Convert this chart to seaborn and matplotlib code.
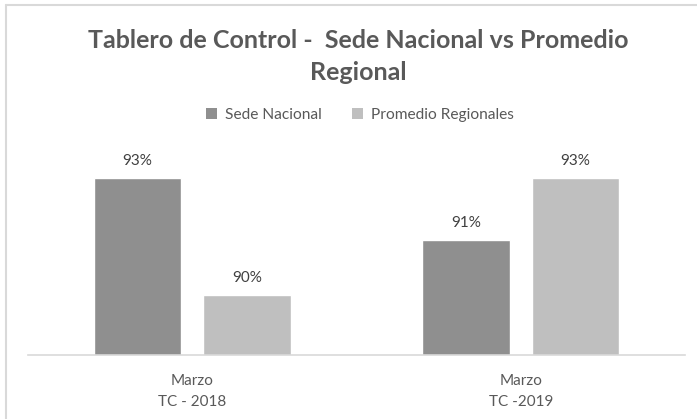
import matplotlib
matplotlib.use("Agg")
import matplotlib.pyplot as plt
import seaborn as sns
import pandas as pd
from matplotlib.lines import Line2D
from matplotlib.patches import Patch

categories = ["Marzo\nTC - 2018", "Marzo\nTC -2019"]
series_names = ["Sede Nacional", "Promedio Regionales"]
sede_nacional = [93.06, 91.29]
promedio_regionales = [89.71, 93.06]

df = pd.DataFrame({
    "cat": categories * 2,
    "serie": [series_names[0]] * 2 + [series_names[1]] * 2,
    "valor": sede_nacional + promedio_regionales,
})

sns.set_style("white")
plt.rcParams["font.family"] = ["Lato", "DejaVu Sans"]

W, H = 697, 419
fig = plt.figure(figsize=(W / 100, H / 100), dpi=100)
ax = fig.add_axes([28 / W, (H - 355) / H, (685 - 28) / W, (355 - 145) / H])

colors = ["#8f8f8f", "#bfbfbf"]
sns.barplot(data=df, x="cat", y="valor", hue="serie", palette=colors,
            width=0.665, gap=0.2, ax=ax, legend=False, saturation=1)

ax.set_ylim(88, 94)
ax.set_xlim(-0.5, 1.5)
for s in ["top", "right", "left"]:
    ax.spines[s].set_visible(False)
ax.spines["bottom"].set_color("#d9d9d9")
ax.spines["bottom"].set_linewidth(1.2)
ax.set_yticks([])
ax.set_xlabel("")
ax.set_ylabel("")
ax.tick_params(axis="x", length=0, pad=14, labelsize=11, labelcolor="#595959")
for lbl in ax.get_xticklabels():
    lbl.set_linespacing(1.6)

for cont in ax.containers:
    ax.bar_label(cont, labels=[f"{v:.0f}%" for v in cont.datavalues],
                 padding=7, fontsize=11, color="#404040")

fig.text(358 / W, 1 - 40 / H, "Tablero de Control -  Sede Nacional vs Promedio",
         ha="center", va="center", fontsize=18, fontweight="bold", color="#595959")
fig.text(358 / W, 1 - 73 / H, "Regional",
         ha="center", va="center", fontsize=18, fontweight="bold", color="#595959")

handles = [Patch(facecolor=c, edgecolor="none") for c in colors]
fig.legend(handles, series_names, loc="center", bbox_to_anchor=(360 / W, 1 - 115 / H),
           ncol=2, frameon=False, fontsize=11.2, handlelength=0.7, handleheight=0.7,
           handletextpad=0.5, columnspacing=2.0, labelcolor="#595959")

fig.add_artist(Line2D([6 / W, 6 / W], [0, 1 - 5 / H], transform=fig.transFigure,
                      color="#d9d9d9", lw=1.5))
fig.add_artist(Line2D([6 / W, 1], [1 - 5 / H, 1 - 5 / H], transform=fig.transFigure,
                      color="#d9d9d9", lw=1.5))

fig.savefig("out.png", dpi=100)
